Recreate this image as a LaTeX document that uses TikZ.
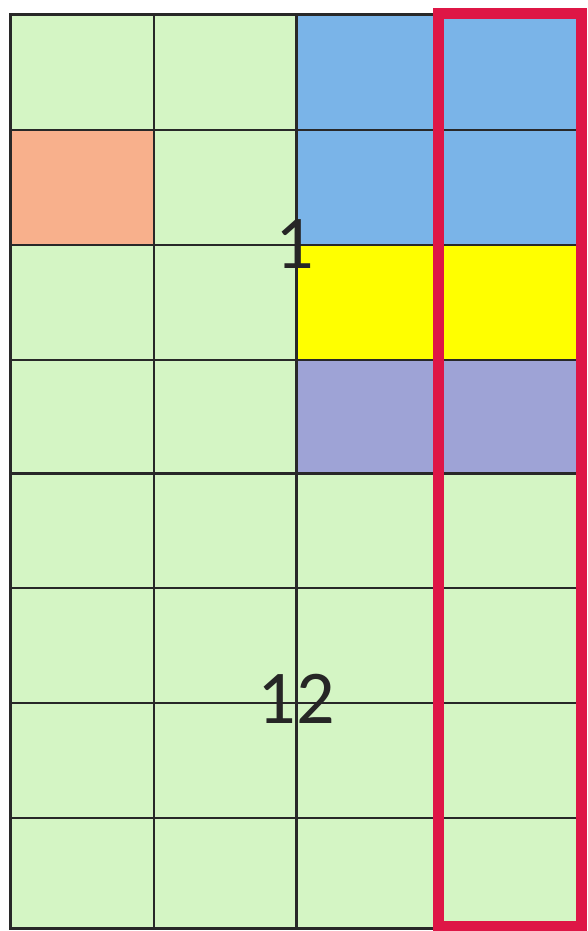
\documentclass[tikz,border=0pt]{standalone}
\usepackage{fontspec}
\setmainfont{Carlito}
\definecolor{cgreen}{RGB}{212,245,196}
\definecolor{cblue}{RGB}{122,180,232}
\definecolor{csalmon}{RGB}{248,176,140}
\definecolor{cyellow}{RGB}{255,255,0}
\definecolor{cpurple}{RGB}{158,163,214}
\definecolor{cred}{RGB}{222,22,70}
\definecolor{cline}{RGB}{40,40,40}
\tikzset{
  thinline/.style={draw=cline,line width=1.8pt},
  thickline/.style={draw=cline,line width=3pt},
  biglabel/.style={font=\fontsize{76}{76}\selectfont,text=black!85,inner sep=0pt},
  redframe/.style={draw=cred,line width=11pt}
}
\begin{document}
\begin{tikzpicture}[x=1pt,y=-1pt]
\useasboundingbox (0,0) rectangle (588,931);
\fill[white] (0,0) rectangle (588,931);
% column and row positions
\def\xa{10}\def\xb{154}\def\xc{296}\def\xd{440}\def\xe{583}
% base green
\fill[cgreen] (\xa,15) rectangle (\xe,928);
% colored cells
\fill[cblue] (\xc,15) rectangle (\xe,245);
\fill[csalmon] (\xa,130) rectangle (\xb,245);
\fill[cyellow] (\xc,245) rectangle (\xe,360);
\fill[cpurple] (\xc,360) rectangle (\xe,473);
% thin grid lines
\foreach \y in {130,245,360,588,703,818}
  \draw[thinline] (\xa,\y) -- (\xe,\y);
\foreach \x in {\xb,\xd}
  \draw[thinline] (\x,15) -- (\x,928);
% thick lines
\draw[thickline] (\xc,15) -- (\xc,928);
\draw[thickline] (\xa,473) -- (\xe,473);
\draw[thickline] (\xa,15) rectangle (\xe,928);
% labels
\node[biglabel] (one) at (295,244) {1};
\node[biglabel] (twelve) at (296,699) {12};
% red frame
\draw[redframe] (438,14) rectangle (581,926);
\end{tikzpicture}
\end{document}
